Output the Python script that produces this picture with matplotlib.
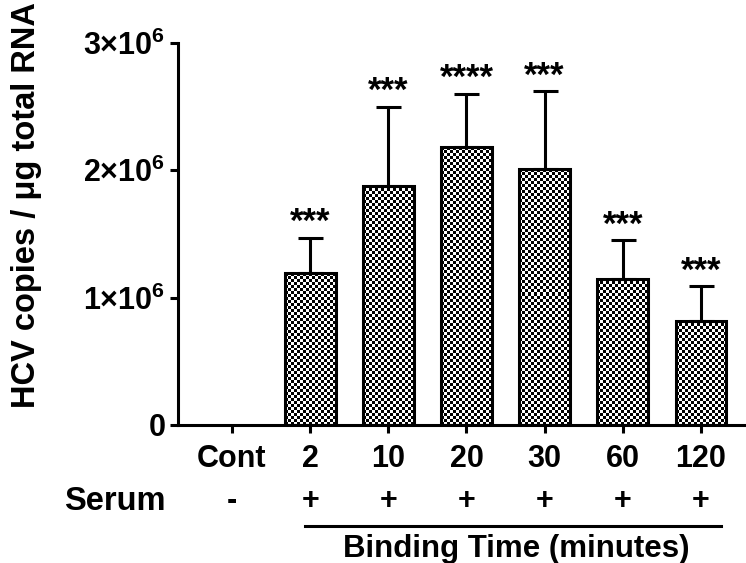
import numpy as np
import matplotlib
matplotlib.use("Agg")
import matplotlib.pyplot as plt
import matplotlib.transforms as mtransforms
from matplotlib.lines import Line2D

plt.rcParams['font.family'] = ['Liberation Sans', 'DejaVu Sans']
plt.rcParams['font.weight'] = 'bold'
plt.rcParams['mathtext.fontset'] = 'custom'
plt.rcParams['mathtext.rm'] = 'Liberation Sans:bold'
plt.rcParams['mathtext.it'] = 'Liberation Sans:bold'
plt.rcParams['mathtext.bf'] = 'Liberation Sans:bold'

# ---- data ----
groups = ["Cont", "2", "10", "20", "30", "60", "120"]
copies = [0.0, 1.19e6, 1.88e6, 2.18e6, 2.01e6, 1.15e6, 0.82e6]
sd_upper = [0.0, 0.28e6, 0.62e6, 0.42e6, 0.61e6, 0.30e6, 0.27e6]
stars = ["", "***", "***", "****", "***", "***", "***"]
serum = ["-", "+", "+", "+", "+", "+", "+"]
y_ticks = [0, 1e6, 2e6, 3e6]
y_tick_labels = ["0", r"1$\times$10$^{6}$", r"2$\times$10$^{6}$", r"3$\times$10$^{6}$"]

LW = 2.2
FS = 22

fig = plt.figure(figsize=(7.46, 5.63), dpi=100)
ax = fig.add_axes([178 / 746, 1 - 425 / 563, 1 - 178 / 746, (425 - 43) / 563])

x = np.arange(len(groups))
ax.set_xlim(-0.69, 6.575)
ax.set_ylim(0, 3e6)

bars = ax.bar(x, copies, width=0.65, facecolor='none', edgecolor='black',
              linewidth=LW, zorder=3)

# checkerboard fill, cell ~3 px, clipped to each bar
for b, v in zip(bars, copies):
    if v <= 0:
        b.set_visible(False)
        continue
    x0, x1 = b.get_x(), b.get_x() + b.get_width()
    p0 = ax.transData.transform((x0, 0))
    p1 = ax.transData.transform((x1, v))
    nx = max(1, int(round((p1[0] - p0[0]) / 3)))
    ny = max(1, int(round((p1[1] - p0[1]) / 3)))
    ii, jj = np.indices((ny, nx))
    board = (ii + jj) % 2
    im = ax.imshow(board, extent=[x0, x1, 0, v], origin='lower', cmap='gray',
                   interpolation='nearest', aspect='auto', zorder=2)
    im.set_clip_path(b)

# upper error bars
idx = [i for i, v in enumerate(copies) if v > 0]
ax.errorbar(x[idx], np.array(copies)[idx],
            yerr=[np.zeros(len(idx)), np.array(sd_upper)[idx]],
            fmt='none', ecolor='black', elinewidth=LW, capsize=9, capthick=LW,
            zorder=4)

for i, s in enumerate(stars):
    if s:
        ax.annotate(s, (x[i], copies[i] + sd_upper[i]), xytext=(0, -1),
                    textcoords='offset points', ha='center', va='bottom',
                    fontsize=25, fontweight='bold')

ax.set_xlim(-0.69, 6.575)
ax.set_ylim(0, 3e6)

ax.set_xticks(x)
ax.set_xticklabels(groups)
ax.set_yticks(y_ticks)
ax.set_yticklabels(y_tick_labels)
ax.tick_params(axis='both', direction='out', length=6, width=LW, labelsize=FS)
ax.tick_params(axis='x', pad=8)
ax.tick_params(axis='y', pad=3)
for lab in ax.get_xticklabels() + ax.get_yticklabels():
    lab.set_fontweight('bold')

for side in ['top', 'right']:
    ax.spines[side].set_visible(False)
for side in ['left', 'bottom']:
    ax.spines[side].set_linewidth(LW)

fig.text(27 / 746, 1 - 205 / 563, "HCV copies / μg total RNA", rotation=90,
         ha='center', va='center', fontsize=23.5, fontweight='bold')

# serum row under the axis
trans = mtransforms.blended_transform_factory(ax.transData, fig.transFigure)
fig.text(115 / 746, 1 - 501 / 563, "Serum", ha='center', va='center',
         fontsize=23.5, fontweight='bold')
for i, s in enumerate(serum):
    ax.text(x[i], 1 - 501 / 563, s, transform=trans, ha='center', va='center',
            fontsize=FS, fontweight='bold', clip_on=False)

ax.add_line(Line2D([0.93, 6.26], [1 - 526 / 563] * 2, transform=trans,
                   color='black', linewidth=LW, clip_on=False))
ax.text(3.63, 1 - 549 / 563, "Binding Time (minutes)", transform=trans,
        ha='center', va='center', fontsize=22.5, fontweight='bold', clip_on=False)

fig.savefig("out.png", dpi=100)
